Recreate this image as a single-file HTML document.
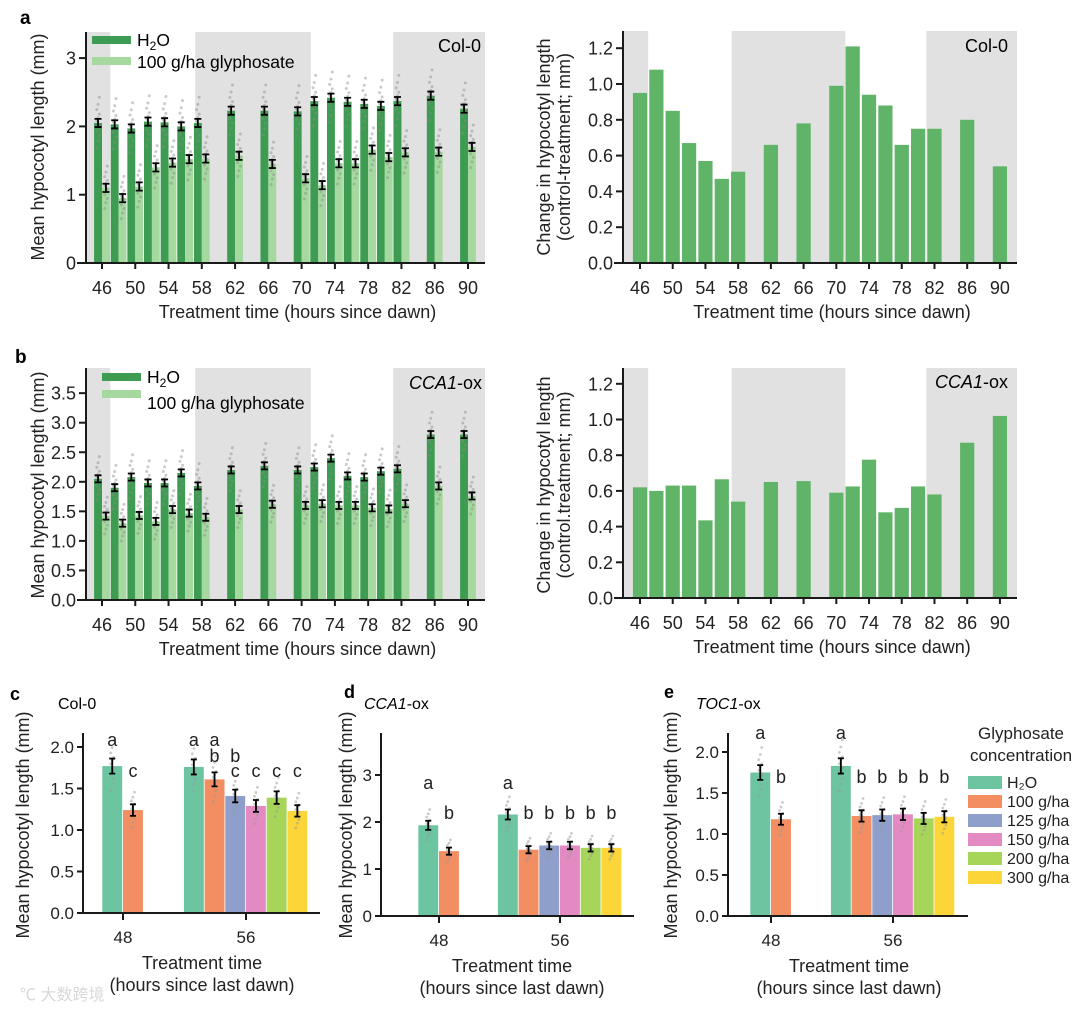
<!DOCTYPE html>
<html><head><meta charset="utf-8">
<style>
html,body{margin:0;padding:0;background:#fff;}
svg{display:block;font-family:"Liberation Sans","Noto Sans CJK SC",sans-serif;}
</style></head>
<body>
<svg id="fig" width="1080" height="1011" viewBox="0 0 1080 1011" xmlns="http://www.w3.org/2000/svg">
<text x="20" y="24" font-size="19" font-weight="bold">a</text>
<text x="15" y="363" font-size="19" font-weight="bold">b</text>
<text x="10" y="700" font-size="18" font-weight="bold">c</text>
<text x="344" y="698" font-size="18" font-weight="bold">d</text>
<text x="664" y="698" font-size="18" font-weight="bold">e</text>
<text x="58" y="709" font-size="16">Col-0</text>
<text x="364" y="709" font-size="16"><tspan font-style="italic">CCA1</tspan>-ox</text>
<text x="696" y="709" font-size="16"><tspan font-style="italic">TOC1</tspan>-ox</text>
<text x="20" y="1000" font-size="16" fill="#d8d8d8">℃ 大数跨境</text>
</svg>
<script>
const times=[46,48,50,52,54,56,58,62,66,70,72,74,76,78,80,82,86,90];
const xTicks=[46,50,54,58,62,66,70,74,78,82,86,90];
const nights=[[40,47],[57.2,71.1],[81,99]];
const colH2O=[2.05,2.03,1.97,2.07,2.06,2.0,2.05,2.23,2.23,2.22,2.37,2.42,2.36,2.33,2.30,2.37,2.45,2.26];
const colGly=[1.10,0.95,1.12,1.40,1.47,1.52,1.53,1.57,1.45,1.24,1.14,1.46,1.46,1.66,1.55,1.62,1.63,1.70];
const ccaH2O=[2.05,1.90,2.08,1.98,1.98,2.15,1.93,2.20,2.27,2.20,2.25,2.40,2.10,2.08,2.18,2.22,2.80,2.80];
const ccaGly=[1.42,1.30,1.43,1.33,1.53,1.47,1.40,1.53,1.62,1.60,1.63,1.60,1.60,1.56,1.54,1.63,1.93,1.76];
const colDiff=[0.95,1.08,0.85,0.67,0.57,0.47,0.51,0.66,0.78,0.99,1.21,0.94,0.88,0.66,0.75,0.75,0.80,0.54];
const ccaDiff=[0.62,0.60,0.63,0.63,0.435,0.665,0.54,0.65,0.655,0.59,0.625,0.775,0.48,0.505,0.625,0.58,0.87,1.02];
const colTicks=[0,1,2,3];
const ccaTicks=[0,0.5,1,1.5,2,2.5,3,3.5];
const diffTicks=[0,0.2,0.4,0.6,0.8,1.0,1.2];
const dotSpread=[-0.55,-0.4,-0.28,-0.18,-0.1,-0.03,0.05,0.12,0.2,0.3,0.42,0.58];
const concLabels=['H\u2082O','100 g/ha','125 g/ha','150 g/ha','200 g/ha','300 g/ha'];
const concColors=['#6cc4a1','#f28e61','#8e9fcc','#e38ac2','#a7d55a','#fcd639'];
const groupLabels=['48','56'];
const cVals48=[1.77,1.24];
const cVals56=[1.76,1.61,1.41,1.29,1.39,1.23];
const cLet48=['a','c'];
const cLet56=['a','ab','bc','c','c','c'];
const dVals48=[1.93,1.38];
const dVals56=[2.16,1.41,1.50,1.50,1.45,1.45];
const dLet48=['a','b'];
const dLet56=['a','b','b','b','b','b'];
const eVals48=[1.75,1.18];
const eVals56=[1.83,1.22,1.23,1.24,1.19,1.21];
const eLet48=['a','b'];
const eLet56=['a','b','b','b','b','b'];
const cTicks=[0,0.5,1,1.5,2];
const dTicks=[0,1,2,3];
const eTicks=[0,0.5,1,1.5,2];

const svg=document.getElementById('fig');
const NS='http://www.w3.org/2000/svg';
function mk(tag,attrs,parent){const e=document.createElementNS(NS,tag);for(const k in attrs)e.setAttribute(k,attrs[k]);(parent||svg).appendChild(e);return e;}
function txt(x,y,s,size,anchor,parent,extra){const t=mk('text',Object.assign({x:x,y:y,'font-size':size,'text-anchor':anchor||'start'},extra||{}),parent);t.textContent=s;return t;}
function fmt(v,dec){return dec?v.toFixed(dec):String(v);}

function timePanel(o){
  const g=mk('g',{});
  
  
  const x=t=>o.x0+(t-46)*o.kx;
  const y=v=>o.y0-v*o.ky;
  const tMin=46-(o.x0-o.left)/o.kx, tMax=46+(o.right-o.x0)/o.kx;
  nights.forEach(n=>{const a=Math.max(n[0],tMin),b=Math.min(n[1],tMax);
    const r=mk('rect',{x:x(a),y:o.top,width:x(b)-x(a),height:o.y0-o.top,fill:'#e1e1e1'},g);
    
    });
  if(o.diff){
    times.forEach((t,i)=>{const r=mk('rect',{x:x(t)-7.1,y:y(o.diff[i]),width:14.2,height:o.y0-y(o.diff[i]),fill:'#5fb467'},g);
      
      });
  } else {
    times.forEach((t,i)=>{
      const r1=mk('rect',{x:x(t-0.95),y:y(o.h2o[i]),width:0.95*o.kx,height:o.y0-y(o.h2o[i]),fill:'#3d9c52'},g);
      
      
      const r2=mk('rect',{x:x(t),y:y(o.gly[i]),width:0.95*o.kx,height:o.y0-y(o.gly[i]),fill:'#a5d9a0'},g);
      
      
      [[t-0.475,o.h2o[i]],[t+0.475,o.gly[i]]].forEach((p,k)=>{
        dotSpread.forEach((d,j)=>{mk('circle',{cx:x(p[0])+((j%3)-1)*1.3,cy:y(p[1]+d*(k?0.55:0.65)),r:1.5,fill:'#8a8a8a','fill-opacity':0.45},g);});
        const cx=x(p[0]),e=0.06;
        mk('path',{d:`M${cx},${y(p[1]-e)}V${y(p[1]+e)}M${cx-3.5},${y(p[1]-e)}H${cx+3.5}M${cx-3.5},${y(p[1]+e)}H${cx+3.5}`,stroke:'#000','stroke-width':1.8,fill:'none'},g);
      });
    });
  }
  mk('path',{d:`M${o.left},${o.top}V${o.y0}M${o.left-9},${o.y0}H${o.right}`,stroke:'#1a1a1a','stroke-width':2,fill:'none'},g);
  o.yt.forEach(v=>{mk('line',{x1:o.left-7,x2:o.left,y1:y(v),y2:y(v),stroke:'#1a1a1a','stroke-width':2},g);
    txt(o.left-10,y(v)+6.5,fmt(v,o.dec),18,'end',g,{fill:'#222'});});
  xTicks.forEach(t=>{mk('line',{x1:x(t),x2:x(t),y1:o.y0,y2:o.y0+6,stroke:'#1a1a1a','stroke-width':2},g);
    txt(x(t),o.y0+31,String(t),18,'middle',g,{fill:'#222'});});
  txt((o.left+o.right)/2+12,o.y0+55,'Treatment time (hours since dawn)',18,'middle',g,{fill:'#222'});
  return {g,x,y};
}

let P=timePanel({name:'panel-a-col0-lengths',left:86,right:485,top:32,x0:102,kx:8.318,y0:263,ky:68.3,h2o:colH2O,gly:colGly,yt:colTicks,dec:0});
txt(0,0,'Mean hypocotyl length (mm)',18,'middle',P.g,{transform:'translate(44,147) rotate(-90)',fill:'#222'});
mk('rect',{x:92,y:36,width:39,height:8,fill:'#3d9c52'},P.g);
txt(137,46,'',17.5,'start',P.g).innerHTML='H<tspan font-size="12" dy="4">2</tspan><tspan dy="-4">O</tspan>';
mk('rect',{x:92,y:57,width:39,height:8,fill:'#a5d9a0'},P.g);
txt(137,68,'100 g/ha glyphosate',17.5,'start',P.g);
txt(481,52,'Col-0',18,'end',P.g);

P=timePanel({name:'panel-b-cca1-lengths',left:86,right:485,top:368,x0:102,kx:8.318,y0:600,ky:59.1,h2o:ccaH2O,gly:ccaGly,yt:ccaTicks,dec:1});
txt(0,0,'Mean hypocotyl length (mm)',18,'middle',P.g,{transform:'translate(44,485) rotate(-90)',fill:'#222'});
mk('rect',{x:102,y:373,width:39,height:8,fill:'#3d9c52'},P.g);
txt(147,383,'',17.5,'start',P.g).innerHTML='H<tspan font-size="12" dy="4">2</tspan><tspan dy="-4">O</tspan>';
mk('rect',{x:102,y:390,width:39,height:8,fill:'#a5d9a0'},P.g);
txt(147,409,'100 g/ha glyphosate',17.5,'start',P.g);
txt(482,389,'',18,'end',P.g).innerHTML='<tspan font-style="italic">CCA1</tspan>-ox';

P=timePanel({name:'panel-a-col0-change',left:623,right:1017,top:31,x0:640,kx:8.18,y0:263,ky:179,diff:colDiff,yt:diffTicks,dec:1});
txt(0,0,'Change in hypocotyl length',18,'middle',P.g,{transform:'translate(550,147) rotate(-90)',fill:'#222'});
txt(0,0,'(control-treatment; mm)',18,'middle',P.g,{transform:'translate(570,147) rotate(-90)',fill:'#222'});
txt(1008,52,'Col-0',18,'end',P.g);

P=timePanel({name:'panel-b-cca1-change',left:623,right:1017,top:368,x0:640,kx:8.18,y0:598,ky:178.5,diff:ccaDiff,yt:diffTicks,dec:1});
txt(0,0,'Change in hypocotyl length',18,'middle',P.g,{transform:'translate(550,485) rotate(-90)',fill:'#222'});
txt(0,0,'(control.treatment; mm)',18,'middle',P.g,{transform:'translate(570,485) rotate(-90)',fill:'#222'});
txt(1008,388,'',18,'end',P.g).innerHTML='<tspan font-style="italic">CCA1</tspan>-ox';

function concPanel(o){
  const g=mk('g',{});
  
  
  const y=v=>o.y0-v*o.ky;
  const bw=20.7;
  const groups=[[o.v48,o.l48,o.t48],[o.v56,o.l56,o.t56]];
  groups.forEach((gr,gi)=>{
    const n=gr[0].length,start=gr[2]-n*bw/2;
    gr[0].forEach((v,i)=>{
      const bx=start+i*bw;
      const r=mk('rect',{x:bx,y:y(v),width:bw-0.8,height:o.y0-y(v),fill:concColors[i]},g);
      
      
      const cx=bx+bw/2-0.4;
      dotSpread.forEach((d,j)=>mk('circle',{cx:cx+((j%3)-1)*1.5,cy:y(v+d*0.45*v/1.5),r:1.4,fill:'#999','fill-opacity':0.5},g));
      const e=0.06*v/1.5+0.02;
      mk('path',{d:`M${cx},${y(v-e)}V${y(v+e)}M${cx-3},${y(v-e)}H${cx+3}M${cx-3},${y(v+e)}H${cx+3}`,stroke:'#000','stroke-width':1.8,fill:'none'},g);
      gr[1][i].split('').forEach(ch=>txt(cx,o.rows[ch]+6,ch,18,'middle',g,{fill:'#222'}));
    });
    mk('line',{x1:gr[2],x2:gr[2],y1:o.y0,y2:o.y0+7,stroke:'#1a1a1a','stroke-width':2},g);
    txt(gr[2],o.y0+30,groupLabels[gi],17,'middle',g,{fill:'#222'});
  });
  mk('path',{d:`M${o.left},${o.top}V${o.y0}H${o.right}`,stroke:'#1a1a1a','stroke-width':2,fill:'none'},g);
  o.ticks.forEach(v=>{mk('line',{x1:o.left-6,x2:o.left,y1:y(v),y2:y(v),stroke:'#1a1a1a','stroke-width':2},g);
    txt(o.left-9,y(v)+6,fmt(v,o.dec),17,'end',g,{fill:'#222'});});
  txt(o.tx,o.y0+56,'Treatment time',18,'middle',g,{fill:'#222'});
  txt(o.tx,o.y0+78,'(hours since last dawn)',18,'middle',g,{fill:'#222'});
  txt(0,0,'Mean hypocotyl length (mm)',18,'middle',g,{transform:`translate(${o.ylx},825) rotate(-90)`,fill:'#222'});
}
concPanel({name:'panel-c-col0',left:83,right:320,top:733,y0:913,ky:83,v48:cVals48,l48:cLet48,v56:cVals56,l56:cLet56,t48:123,t56:246,ticks:cTicks,dec:1,rows:{a:740,b:756,c:771},tx:202,ylx:29});
concPanel({name:'panel-d-cca1',left:381,right:634,top:733,y0:916,ky:47,v48:dVals48,l48:dLet48,v56:dVals56,l56:dLet56,t48:439,t56:560,ticks:dTicks,dec:0,rows:{a:783,b:813},tx:512,ylx:352});
concPanel({name:'panel-e-toc1',left:728,right:968,top:733,y0:916,ky:82,v48:eVals48,l48:eLet48,v56:eVals56,l56:eLet56,t48:771,t56:893,ticks:eTicks,dec:1,rows:{a:733,b:777},tx:849,ylx:677});

const lg=mk('g',{});


txt(1021,739,'Glyphosate',17,'middle',lg,{fill:'#222'});
txt(1021,761,'concentration',17,'middle',lg,{fill:'#222'});
concLabels.forEach((l,i)=>{
  const yy=776+i*19;
  const r=mk('rect',{x:968,y:yy,width:34,height:13,fill:concColors[i]},lg);
  
  
  txt(1007,yy+12,l,16,'start',lg,{fill:'#222'});
});
</script>
</body></html>
